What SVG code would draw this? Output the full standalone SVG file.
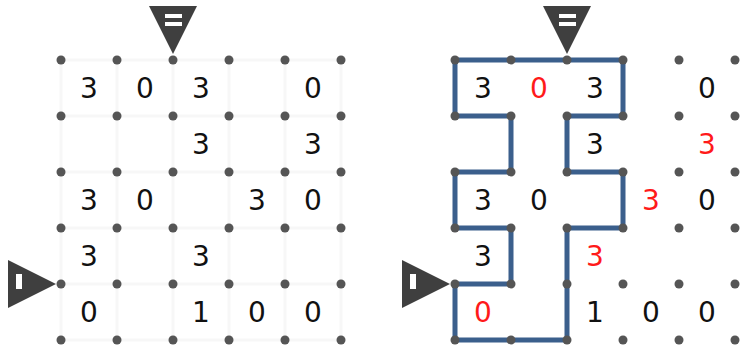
<svg xmlns="http://www.w3.org/2000/svg" width="744" height="351" viewBox="0 0 744 351">
  <style>
    .grid { stroke: #f7f7f7; stroke-width: 3; fill: none; }
    .dot { fill: #555555; }
    .num { font-family: "DejaVu Sans", Verdana, sans-serif; font-size: 28px; text-anchor: middle; fill: #111111; }
    .red { fill: #ff1a1a; }
    .loop { stroke: #3b5f8c; stroke-width: 5; fill: none; stroke-linejoin: miter; stroke-linecap: square; }
    .marker { fill: #3f3f3f; }
    .bar { fill: #ffffff; }
  </style>
  <defs>
    <g id="dots">
      <g class="dot">
        <circle cx="61" cy="60" r="4.5"/><circle cx="117" cy="60" r="4.5"/><circle cx="173" cy="60" r="4.5"/><circle cx="229" cy="60" r="4.5"/><circle cx="285" cy="60" r="4.5"/><circle cx="341" cy="60" r="4.5"/>
        <circle cx="61" cy="116" r="4.5"/><circle cx="117" cy="116" r="4.5"/><circle cx="173" cy="116" r="4.5"/><circle cx="229" cy="116" r="4.5"/><circle cx="285" cy="116" r="4.5"/><circle cx="341" cy="116" r="4.5"/>
        <circle cx="61" cy="172" r="4.5"/><circle cx="117" cy="172" r="4.5"/><circle cx="173" cy="172" r="4.5"/><circle cx="229" cy="172" r="4.5"/><circle cx="285" cy="172" r="4.5"/><circle cx="341" cy="172" r="4.5"/>
        <circle cx="61" cy="228" r="4.5"/><circle cx="117" cy="228" r="4.5"/><circle cx="173" cy="228" r="4.5"/><circle cx="229" cy="228" r="4.5"/><circle cx="285" cy="228" r="4.5"/><circle cx="341" cy="228" r="4.5"/>
        <circle cx="61" cy="284" r="4.5"/><circle cx="117" cy="284" r="4.5"/><circle cx="173" cy="284" r="4.5"/><circle cx="229" cy="284" r="4.5"/><circle cx="285" cy="284" r="4.5"/><circle cx="341" cy="284" r="4.5"/>
        <circle cx="61" cy="340" r="4.5"/><circle cx="117" cy="340" r="4.5"/><circle cx="173" cy="340" r="4.5"/><circle cx="229" cy="340" r="4.5"/><circle cx="285" cy="340" r="4.5"/><circle cx="341" cy="340" r="4.5"/>
      </g>
    </g>
    <g id="entries">
      <path class="marker" d="M149 6H197L173 54Z"/>
      <rect class="bar" x="165" y="14" width="17" height="4"/>
      <rect class="bar" x="165" y="22" width="17" height="4"/>
      <path class="marker" d="M8 260V308L56 284Z"/>
      <rect class="bar" x="16" y="274" width="6" height="15"/>
    </g>
  </defs>

  <!-- puzzle grid -->
  <g id="puzzle">
    <path class="grid" d="M61 60H341M61 116H341M61 172H341M61 228H341M61 284H341M61 340H341M61 60V340M117 60V340M173 60V340M229 60V340M285 60V340M341 60V340"/>
    <use href="#entries"/>
    <use href="#dots"/>
    <g id="puzzle-clues">
      <text class="num" x="89" y="98">3</text>
      <text class="num" x="145" y="98">0</text>
      <text class="num" x="201" y="98">3</text>
      <text class="num" x="313" y="98">0</text>
      <text class="num" x="201" y="154">3</text>
      <text class="num" x="313" y="154">3</text>
      <text class="num" x="89" y="210">3</text>
      <text class="num" x="145" y="210">0</text>
      <text class="num" x="257" y="210">3</text>
      <text class="num" x="313" y="210">0</text>
      <text class="num" x="89" y="266">3</text>
      <text class="num" x="201" y="266">3</text>
      <text class="num" x="89" y="322">0</text>
      <text class="num" x="201" y="322">1</text>
      <text class="num" x="257" y="322">0</text>
      <text class="num" x="313" y="322">0</text>
    </g>
  </g>

  <!-- solved grid -->
  <g id="solution" transform="translate(394 0)">
    <use href="#entries"/>
    <g id="connectors">
      <path class="loop" d="M61 60H229V116H173V172H229V228H173V340H61V284H117V228H61V172H117V116H61Z"/>
    </g>
    <use href="#dots"/>
    <g id="solution-clues">
      <text class="num" x="89" y="98">3</text>
      <text class="num red" x="145" y="98">0</text>
      <text class="num" x="201" y="98">3</text>
      <text class="num" x="313" y="98">0</text>
      <text class="num" x="201" y="154">3</text>
      <text class="num red" x="313" y="154">3</text>
      <text class="num" x="89" y="210">3</text>
      <text class="num" x="145" y="210">0</text>
      <text class="num red" x="257" y="210">3</text>
      <text class="num" x="313" y="210">0</text>
      <text class="num" x="89" y="266">3</text>
      <text class="num red" x="201" y="266">3</text>
      <text class="num red" x="89" y="322">0</text>
      <text class="num" x="201" y="322">1</text>
      <text class="num" x="257" y="322">0</text>
      <text class="num" x="313" y="322">0</text>
    </g>
  </g>
</svg>
